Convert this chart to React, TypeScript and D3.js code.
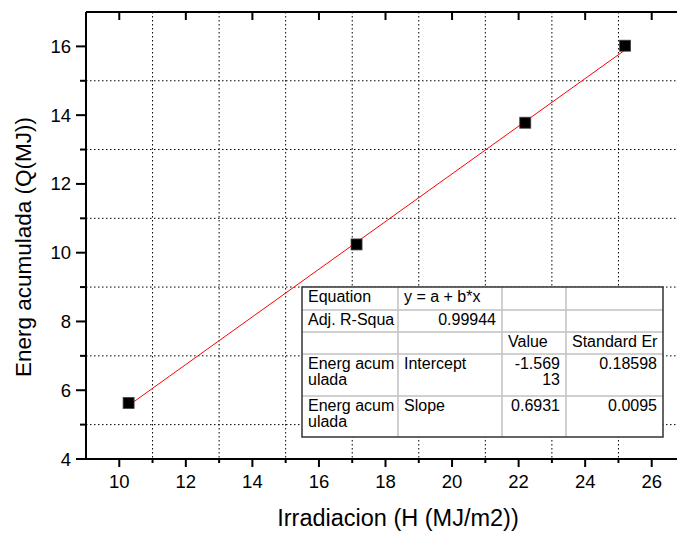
import React from "react";
import * as d3 from "d3";

const irradiation = [10.28, 17.13, 22.2, 25.2];
const energy = [5.63, 10.24, 13.78, 16.02];
const fitIntercept = -1.56913;
const fitSlope = 0.6931;

const xTicksMajor = [10, 12, 14, 16, 18, 20, 22, 24, 26];
const xTicksMinor = [11, 13, 15, 17, 19, 21, 23, 25];
const yTicksMajor = [4, 6, 8, 10, 12, 14, 16];
const yTicksMinor = [5, 7, 9, 11, 13, 15];

const tableRows: { cells: string[][]; align: string[] }[] = [
  { cells: [["Equation"], ["y = a + b*x"], [""], [""]], align: ["l", "l", "r", "r"] },
  { cells: [["Adj. R-Squa"], ["0.99944"], [""], [""]], align: ["l", "r", "r", "r"] },
  { cells: [[""], [""], ["Value"], ["Standard Er"]], align: ["l", "l", "l", "l"] },
  { cells: [["Energ acum", "ulada"], ["Intercept"], ["-1.569", "13"], ["0.18598"]], align: ["l", "l", "r", "r"] },
  { cells: [["Energ acum", "ulada"], ["Slope"], ["0.6931"], ["0.0095"]], align: ["l", "l", "r", "r"] },
];

const W = 677;
const H = 534;
const FONT = "'Liberation Sans', Arial, sans-serif";

export default function App() {
  const m = { left: 86, right: 685, top: 12, bottom: 459 };
  const x = d3.scaleLinear().domain([9, 27]).range([m.left, m.right]);
  const y = d3.scaleLinear().domain([4, 17]).range([m.bottom, m.top]);

  const xMin = d3.min(irradiation)!;
  const xMax = d3.max(irradiation)!;
  const fitLine = d3.line<number>()
    .x((d) => x(d))
    .y((d) => y(fitIntercept + fitSlope * d));

  const colX = [302, 398, 502, 566, 663];
  const rowY = [287, 310, 332, 354, 396, 437];
  const pad = 6;

  return (
    <svg width={W} height={H} style={{ position: "absolute", left: 0, top: 0, background: "#fff" }} fontFamily={FONT}>
      <rect x={0} y={0} width={W} height={H} fill="#fff" />
      {/* grid (dotted, at minor values) */}
      {xTicksMinor.map((t) => (
        <line key={"gx" + t} x1={x(t)} x2={x(t)} y1={m.top} y2={m.bottom} stroke="#000" strokeWidth={1} strokeDasharray="1.5,2.5" />
      ))}
      {yTicksMinor.map((t) => (
        <line key={"gy" + t} x1={m.left} x2={m.right} y1={y(t)} y2={y(t)} stroke="#000" strokeWidth={1} strokeDasharray="1.5,2.5" />
      ))}

      {/* fit line */}
      <path d={fitLine([xMin, xMax]) || ""} stroke="#ff0000" strokeWidth={1} fill="none" />

      {/* points */}
      {irradiation.map((v, i) => (
        <rect key={"p" + i} x={x(v) - 5.5} y={y(energy[i]) - 5.5} width={11} height={11} fill="#000" stroke="#444" strokeWidth={0.8} />
      ))}

      {/* table */}
      <g fontSize={16} fill="#000">
        <rect x={colX[0]} y={rowY[0]} width={colX[4] - colX[0]} height={rowY[5] - rowY[0]} fill="#fff" />
        {rowY.slice(1, 5).map((ry, i) => (
          <line key={"tr" + i} x1={colX[0]} x2={colX[4]} y1={ry} y2={ry} stroke="#c0c0c0" strokeWidth={1.5} />
        ))}
        {colX.slice(1, 4).map((cx, i) => (
          <line key={"tc" + i} x1={cx} x2={cx} y1={rowY[0]} y2={rowY[5]} stroke="#c0c0c0" strokeWidth={1.5} />
        ))}
        <rect x={colX[0]} y={rowY[0]} width={colX[4] - colX[0]} height={rowY[5] - rowY[0]} fill="none" stroke="#333" strokeWidth={1.5} />
        {tableRows.map((row, ri) =>
          row.cells.map((lines, ci) =>
            lines.map((txt, li) => {
              const right = row.align[ci] === "r";
              return (
                <text
                  key={`t${ri}-${ci}-${li}`}
                  x={right ? colX[ci + 1] - pad : colX[ci] + pad}
                  y={rowY[ri] + 15 + li * 16}
                  textAnchor={right ? "end" : "start"}
                >
                  {txt}
                </text>
              );
            })
          )
        )}
      </g>

      {/* axes lines */}
      <g stroke="#000" strokeWidth={2} fill="none">
        <line x1={m.left} x2={m.right} y1={m.bottom} y2={m.bottom} />
        <line x1={m.left} x2={m.right} y1={m.top} y2={m.top} />
        <line x1={m.left} x2={m.left} y1={m.top} y2={m.bottom} />
        <line x1={m.right} x2={m.right} y1={m.top} y2={m.bottom} />
      </g>

      {/* ticks */}
      <g stroke="#000" strokeWidth={2}>
        {xTicksMajor.map((t) => (
          <line key={"xb" + t} x1={x(t)} x2={x(t)} y1={m.bottom} y2={m.bottom + 8} />
        ))}
        {xTicksMinor.map((t) => (
          <line key={"xbm" + t} x1={x(t)} x2={x(t)} y1={m.bottom} y2={m.bottom + 4} />
        ))}
        {xTicksMajor.map((t) => (
          <line key={"xt" + t} x1={x(t)} x2={x(t)} y1={m.top} y2={m.top + 8} />
        ))}
        {yTicksMajor.map((t) => (
          <line key={"yl" + t} x1={m.left - 10} x2={m.left} y1={y(t)} y2={y(t)} />
        ))}
        {yTicksMinor.map((t) => (
          <line key={"ylm" + t} x1={m.left - 6} x2={m.left} y1={y(t)} y2={y(t)} />
        ))}
        {yTicksMajor.map((t) => (
          <line key={"yr" + t} x1={m.right - 8} x2={m.right} y1={y(t)} y2={y(t)} />
        ))}
      </g>

      {/* tick labels */}
      <g fontSize={18.5} fill="#000">
        {xTicksMajor.map((t) => (
          <text key={"xl" + t} x={x(t)} y={488} textAnchor="middle">{t}</text>
        ))}
        {yTicksMajor.map((t) => (
          <text key={"yll" + t} x={71} y={y(t) + 6.5} textAnchor="end">{t}</text>
        ))}
      </g>

      {/* axis titles */}
      <text x={398} y={526} fontSize={23.5} textAnchor="middle" fill="#000">
        Irradiacion (H (MJ/m2))
      </text>
      <text transform={`translate(31,247) rotate(-90)`} fontSize={22.5} textAnchor="middle" fill="#000">
        Energ acumulada (Q(MJ))
      </text>
    </svg>
  );
}
